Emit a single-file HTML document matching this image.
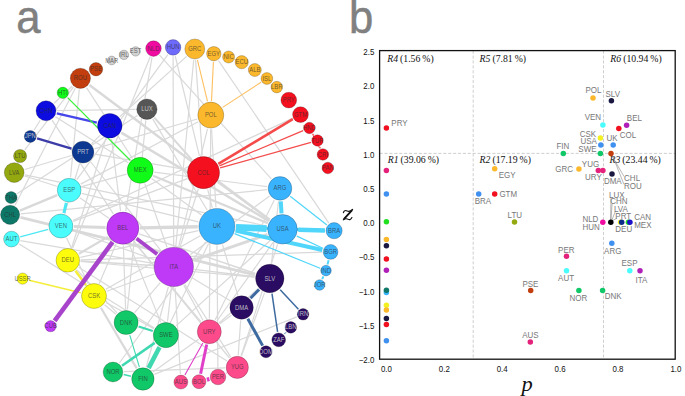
<!DOCTYPE html><html><head><meta charset="utf-8"><style>
html,body{margin:0;padding:0;background:#fff;}
body{width:685px;height:396px;overflow:hidden;position:relative;}
svg{position:absolute;left:0;top:0;}
.nl{font-family:"Liberation Sans",sans-serif;font-size:6.8px;fill:#2a2a2a;fill-opacity:.68;text-anchor:middle;dominant-baseline:central;}
.tk{font-family:"Liberation Sans",sans-serif;font-size:8.8px;fill:#111;}
.lb{font-family:"Liberation Sans",sans-serif;font-size:8.6px;fill:#777;}
.rg{font-family:"Liberation Serif",serif;font-size:9.75px;fill:#111;}
</style></head><body>
<svg width="685" height="396" viewBox="0 0 685 396">
<text transform="translate(16.3,32.9) scale(0.95,1)" font-family="Liberation Sans,sans-serif" font-size="46" fill="#808080" stroke="#808080" stroke-width="0.5">a</text>
<text transform="translate(348.9,32.8) scale(0.95,1)" font-family="Liberation Sans,sans-serif" font-size="46" fill="#808080" stroke="#808080" stroke-width="0.5">b</text>
<g stroke-linecap="butt">
<line x1="89.4" y1="85" x2="269.8" y2="219.8" stroke="#d9d9d9" stroke-width="2.5"/>
<line x1="79.3" y1="89.4" x2="70.5" y2="177.3" stroke="#d9d9d9" stroke-width="1.2"/>
<line x1="86.5" y1="87.7" x2="132.5" y2="158.5" stroke="#d9d9d9" stroke-width="1.2"/>
<line x1="75.3" y1="88.3" x2="15" y2="205.3" stroke="#d9d9d9" stroke-width="1.2"/>
<line x1="72.3" y1="86" x2="54.1" y2="103.2" stroke="#d9d9d9" stroke-width="1.2"/>
<line x1="57.1" y1="110.6" x2="135.6" y2="109.4" stroke="#d9d9d9" stroke-width="1.2"/>
<line x1="52.1" y1="120.1" x2="113.4" y2="213.8" stroke="#d9d9d9" stroke-width="1.2"/>
<line x1="55.4" y1="116.7" x2="128.3" y2="162.8" stroke="#d9d9d9" stroke-width="1.2"/>
<line x1="150.2" y1="56.8" x2="72.6" y2="248.3" stroke="#d9d9d9" stroke-width="1.2"/>
<line x1="152" y1="57.4" x2="125.7" y2="211.2" stroke="#d9d9d9" stroke-width="1.2"/>
<line x1="159.5" y1="55.2" x2="271.3" y2="178.8" stroke="#d9d9d9" stroke-width="1.2"/>
<line x1="167.9" y1="54.6" x2="76.8" y2="179.7" stroke="#d9d9d9" stroke-width="1.2"/>
<line x1="173.1" y1="56.3" x2="173.7" y2="246.1" stroke="#d9d9d9" stroke-width="1.2"/>
<line x1="175.2" y1="56" x2="199.4" y2="155.9" stroke="#d9d9d9" stroke-width="1.2"/>
<line x1="186.6" y1="56.4" x2="119.7" y2="116.7" stroke="#d9d9d9" stroke-width="1.2"/>
<line x1="193.7" y1="60" x2="175.8" y2="246.2" stroke="#d9d9d9" stroke-width="1.2"/>
<line x1="195.6" y1="60.1" x2="202.3" y2="155.4" stroke="#d9d9d9" stroke-width="1.2"/>
<line x1="218.5" y1="60.6" x2="328.9" y2="223.1" stroke="#d9d9d9" stroke-width="1.2"/>
<line x1="24.8" y1="149.9" x2="73.5" y2="87.1" stroke="#d9d9d9" stroke-width="1.2"/>
<line x1="34" y1="130.3" x2="40.2" y2="120.3" stroke="#d9d9d9" stroke-width="1.2"/>
<line x1="24.7" y1="169.5" x2="71.5" y2="155.5" stroke="#d9d9d9" stroke-width="1.2"/>
<line x1="24.7" y1="176" x2="56.8" y2="186.2" stroke="#d9d9d9" stroke-width="1.2"/>
<line x1="25" y1="174.9" x2="266.9" y2="226" stroke="#d9d9d9" stroke-width="1.2"/>
<line x1="17.1" y1="193.7" x2="137.4" y2="115.4" stroke="#d9d9d9" stroke-width="1.2"/>
<line x1="20" y1="210.7" x2="57.2" y2="195.2" stroke="#d9d9d9" stroke-width="2.5"/>
<line x1="20.5" y1="217.3" x2="254.9" y2="274.9" stroke="#d9d9d9" stroke-width="2.8"/>
<line x1="20.7" y1="213.8" x2="267.2" y2="189.7" stroke="#d9d9d9" stroke-width="1.2"/>
<line x1="20.4" y1="240.6" x2="153.3" y2="263.4" stroke="#d9d9d9" stroke-width="1.2"/>
<line x1="19.1" y1="243.9" x2="154.3" y2="327.9" stroke="#d9d9d9" stroke-width="1.2"/>
<line x1="91.5" y1="143.7" x2="100.3" y2="135.1" stroke="#d9d9d9" stroke-width="1.2"/>
<line x1="90.4" y1="161.5" x2="160.9" y2="250.6" stroke="#d9d9d9" stroke-width="1.2"/>
<line x1="94.8" y1="154.1" x2="186.5" y2="169.7" stroke="#d9d9d9" stroke-width="1.2"/>
<line x1="79.6" y1="163.6" x2="64.7" y2="213.4" stroke="#d9d9d9" stroke-width="1.2"/>
<line x1="94.5" y1="148.8" x2="197.3" y2="119" stroke="#d9d9d9" stroke-width="1.2"/>
<line x1="81.7" y1="186.7" x2="126.6" y2="174.1" stroke="#d9d9d9" stroke-width="1.2"/>
<line x1="80.7" y1="184.1" x2="198.3" y2="121.7" stroke="#d9d9d9" stroke-width="1.2"/>
<line x1="81.8" y1="193.3" x2="198.3" y2="221.9" stroke="#d9d9d9" stroke-width="1.2"/>
<line x1="79.8" y1="197.7" x2="108.8" y2="218.3" stroke="#d9d9d9" stroke-width="1.2"/>
<line x1="72.8" y1="220.5" x2="292.3" y2="118.4" stroke="#d9d9d9" stroke-width="1.2"/>
<line x1="73.2" y1="221.4" x2="187.4" y2="178.6" stroke="#d9d9d9" stroke-width="1.2"/>
<line x1="66.5" y1="237.8" x2="88.2" y2="283.7" stroke="#d9d9d9" stroke-width="1.2"/>
<line x1="71.6" y1="248" x2="105.8" y2="138.5" stroke="#d9d9d9" stroke-width="1.2"/>
<line x1="74" y1="226.5" x2="105.6" y2="227.6" stroke="#d9d9d9" stroke-width="3"/>
<line x1="73.2" y1="230.5" x2="154.2" y2="259.8" stroke="#d9d9d9" stroke-width="1.2"/>
<line x1="80.7" y1="261.1" x2="153" y2="265.6" stroke="#d9d9d9" stroke-width="1.5"/>
<line x1="80.7" y1="259.9" x2="322.1" y2="252.2" stroke="#d9d9d9" stroke-width="1.2"/>
<line x1="78.9" y1="253.8" x2="107.9" y2="236.9" stroke="#d9d9d9" stroke-width="2.2"/>
<line x1="80.4" y1="257.4" x2="198.3" y2="230.6" stroke="#d9d9d9" stroke-width="1.2"/>
<line x1="100.9" y1="307.7" x2="136.7" y2="368.4" stroke="#d9d9d9" stroke-width="2.2"/>
<line x1="105.8" y1="289.3" x2="200.3" y2="235.8" stroke="#d9d9d9" stroke-width="1.2"/>
<line x1="105.9" y1="302.5" x2="153.9" y2="328.6" stroke="#d9d9d9" stroke-width="1.2"/>
<line x1="121.3" y1="132.6" x2="268.9" y2="221.1" stroke="#d9d9d9" stroke-width="2.5"/>
<line x1="111.5" y1="139" x2="120.6" y2="211.1" stroke="#d9d9d9" stroke-width="1.2"/>
<line x1="153.2" y1="175.7" x2="267.8" y2="223.2" stroke="#d9d9d9" stroke-width="2.2"/>
<line x1="151.6" y1="178.6" x2="201.5" y2="215.1" stroke="#d9d9d9" stroke-width="1.2"/>
<line x1="154.2" y1="172.1" x2="267.2" y2="186.7" stroke="#d9d9d9" stroke-width="1.2"/>
<line x1="144.8" y1="183.6" x2="167" y2="247.3" stroke="#d9d9d9" stroke-width="1.2"/>
<line x1="154.4" y1="117.6" x2="192" y2="159.8" stroke="#d9d9d9" stroke-width="2"/>
<line x1="152.7" y1="118.9" x2="207.1" y2="210" stroke="#d9d9d9" stroke-width="1.2"/>
<line x1="145.8" y1="120.4" x2="127.4" y2="309.5" stroke="#d9d9d9" stroke-width="1.2"/>
<line x1="210.7" y1="129.2" x2="209.4" y2="318.6" stroke="#d9d9d9" stroke-width="1.2"/>
<line x1="211.6" y1="129.2" x2="215.9" y2="207.3" stroke="#d9d9d9" stroke-width="1.2"/>
<line x1="207.5" y1="128.8" x2="178.7" y2="246.7" stroke="#d9d9d9" stroke-width="1.2"/>
<line x1="207.7" y1="189.3" x2="212.3" y2="207.9" stroke="#d9d9d9" stroke-width="1.2"/>
<line x1="217.5" y1="182.6" x2="269.6" y2="220" stroke="#d9d9d9" stroke-width="1.2"/>
<line x1="198.3" y1="189" x2="180" y2="247.1" stroke="#d9d9d9" stroke-width="1.2"/>
<line x1="140" y1="227.9" x2="197.8" y2="226.8" stroke="#d9d9d9" stroke-width="3.4"/>
<line x1="139.1" y1="233.8" x2="255.3" y2="273.5" stroke="#d9d9d9" stroke-width="1.4"/>
<line x1="129.2" y1="244.2" x2="160.8" y2="322.4" stroke="#d9d9d9" stroke-width="1.2"/>
<line x1="133.7" y1="241.5" x2="229.5" y2="358" stroke="#d9d9d9" stroke-width="1.2"/>
<line x1="116.1" y1="244" x2="99.3" y2="283.5" stroke="#d9d9d9" stroke-width="1.2"/>
<line x1="106.8" y1="291.3" x2="154.3" y2="274" stroke="#d9d9d9" stroke-width="1.2"/>
<line x1="80.6" y1="261.5" x2="254.6" y2="277.1" stroke="#d9d9d9" stroke-width="1.2"/>
<line x1="123.4" y1="245.4" x2="125.6" y2="309.4" stroke="#d9d9d9" stroke-width="1.2"/>
<line x1="133.8" y1="241.4" x2="200.9" y2="321.6" stroke="#d9d9d9" stroke-width="1.2"/>
<line x1="193.5" y1="260.1" x2="267.5" y2="234.5" stroke="#d9d9d9" stroke-width="3"/>
<line x1="194.4" y1="269.4" x2="254.6" y2="276.7" stroke="#d9d9d9" stroke-width="1.4"/>
<line x1="190.5" y1="254.5" x2="269.6" y2="196.1" stroke="#d9d9d9" stroke-width="1.2"/>
<line x1="191.6" y1="277.6" x2="230.6" y2="300.9" stroke="#d9d9d9" stroke-width="1.2"/>
<line x1="171.4" y1="287.6" x2="167.5" y2="321.5" stroke="#d9d9d9" stroke-width="1.2"/>
<line x1="175.1" y1="287.7" x2="180.4" y2="374" stroke="#d9d9d9" stroke-width="1.2"/>
<line x1="183.8" y1="285.1" x2="203" y2="320.2" stroke="#d9d9d9" stroke-width="1.2"/>
<line x1="184.9" y1="284.5" x2="230.8" y2="357.1" stroke="#d9d9d9" stroke-width="1.2"/>
<line x1="168.3" y1="287" x2="146.2" y2="367.1" stroke="#d9d9d9" stroke-width="1.2"/>
<line x1="160.3" y1="282.7" x2="134.6" y2="312.6" stroke="#d9d9d9" stroke-width="1.2"/>
<line x1="217" y1="245.5" x2="217.9" y2="368.1" stroke="#d9d9d9" stroke-width="1.2"/>
<line x1="208.6" y1="243.6" x2="148.3" y2="367.9" stroke="#d9d9d9" stroke-width="1.2"/>
<line x1="222.5" y1="244.7" x2="237.9" y2="295.3" stroke="#d9d9d9" stroke-width="1.2"/>
<line x1="205.8" y1="241.9" x2="119.4" y2="363" stroke="#d9d9d9" stroke-width="1.2"/>
<line x1="215.1" y1="320" x2="274.3" y2="200" stroke="#d9d9d9" stroke-width="1.2"/>
<line x1="219.1" y1="323" x2="258.3" y2="288.6" stroke="#d9d9d9" stroke-width="1.2"/>
<line x1="216.9" y1="321" x2="273.3" y2="242.2" stroke="#d9d9d9" stroke-width="1.2"/>
<line x1="270.7" y1="240" x2="176" y2="325.9" stroke="#d9d9d9" stroke-width="1.2"/>
<line x1="277.6" y1="244.4" x2="241.1" y2="355.8" stroke="#d9d9d9" stroke-width="1.2"/>
<line x1="241.5" y1="355.9" x2="264.5" y2="292.9" stroke="#d9d9d9" stroke-width="1.2"/>
<line x1="238.2" y1="355.2" x2="240.7" y2="320.3" stroke="#d9d9d9" stroke-width="1.2"/>
<line x1="117.1" y1="312.9" x2="76.6" y2="269.7" stroke="#d9d9d9" stroke-width="1.2"/>
<line x1="116" y1="314.2" x2="104.5" y2="304.7" stroke="#d9d9d9" stroke-width="1.2"/>
<line x1="271.5" y1="263.3" x2="278.5" y2="201.2" stroke="#d9d9d9" stroke-width="1.2"/>
<line x1="124" y1="371.6" x2="225.1" y2="367.9" stroke="#d9d9d9" stroke-width="1.2"/>
<line x1="152.9" y1="371.9" x2="198.6" y2="339.3" stroke="#d9d9d9" stroke-width="1.2"/>
<line x1="154.3" y1="374.4" x2="296.7" y2="316.9" stroke="#d9d9d9" stroke-width="1.2"/>
<line x1="227" y1="360.9" x2="78.7" y2="267.2" stroke="#d9d9d9" stroke-width="1.2"/>
<line x1="219.8" y1="323.8" x2="231.4" y2="315.2" stroke="#d9d9d9" stroke-width="1.2"/>
<line x1="56.8" y1="113.3" x2="96.8" y2="122.7" stroke="#4646ea" stroke-width="2.4"/>
<line x1="37.1" y1="138.4" x2="71.5" y2="148.7" stroke="#3c3ca8" stroke-width="2.3"/>
<line x1="67.6" y1="97.6" x2="130.2" y2="160.3" stroke="#3cf03c" stroke-width="1.3"/>
<line x1="66.3" y1="202.9" x2="63.9" y2="213.2" stroke="#4ce8f4" stroke-width="3"/>
<line x1="48.2" y1="229.4" x2="20.2" y2="236.8" stroke="#4ce8f4" stroke-width="1.2"/>
<line x1="75.4" y1="270.7" x2="86" y2="285" stroke="#f4ee3a" stroke-width="2.5"/>
<line x1="29.1" y1="280.2" x2="80.8" y2="292.8" stroke="#f4ee3a" stroke-width="1.4"/>
<line x1="112.6" y1="242" x2="54.6" y2="320.8" stroke="#a844cc" stroke-width="4.6"/>
<line x1="136.5" y1="238.6" x2="157.2" y2="254.3" stroke="#a844cc" stroke-width="3.8"/>
<line x1="197.4" y1="59.8" x2="207.5" y2="101.4" stroke="#fdc060" stroke-width="1.1"/>
<line x1="213.4" y1="62" x2="211.5" y2="101" stroke="#fdc060" stroke-width="1.1"/>
<line x1="261" y1="82.3" x2="222.6" y2="107.4" stroke="#fdc060" stroke-width="1.1"/>
<line x1="235.2" y1="59.6" x2="234.5" y2="59.4" stroke="#fdc060" stroke-width="1.0"/>
<line x1="218.3" y1="163.8" x2="292.8" y2="119.2" stroke="#f44a4a" stroke-width="2.6"/>
<line x1="219.4" y1="165.9" x2="303.1" y2="130.6" stroke="#f44a4a" stroke-width="1.2"/>
<line x1="220.1" y1="167.9" x2="311" y2="142.3" stroke="#f44a4a" stroke-width="1.2"/>
<line x1="313.1" y1="133.7" x2="313.8" y2="134.8" stroke="#f44a4a" stroke-width="1.0"/>
<line x1="312.5" y1="134.1" x2="319.8" y2="148.4" stroke="#f44a4a" stroke-width="1.0"/>
<line x1="319.9" y1="146.8" x2="320.4" y2="148.1" stroke="#f44a4a" stroke-width="1.0"/>
<line x1="280.8" y1="201.3" x2="281.5" y2="213.4" stroke="#50d6fa" stroke-width="4"/>
<line x1="290.2" y1="196.3" x2="326.9" y2="225" stroke="#50d6fa" stroke-width="1.2"/>
<line x1="298.4" y1="229.7" x2="324.9" y2="230.5" stroke="#50d6fa" stroke-width="4.4"/>
<line x1="236" y1="227.2" x2="266.6" y2="228.6" stroke="#50d6fa" stroke-width="6.6"/>
<line x1="236" y1="227.1" x2="324.9" y2="230.4" stroke="#50d6fa" stroke-width="3"/>
<line x1="235.5" y1="230.6" x2="322.3" y2="250" stroke="#50d6fa" stroke-width="4"/>
<line x1="296.9" y1="236.1" x2="322.9" y2="248.3" stroke="#50d6fa" stroke-width="1.2"/>
<line x1="234.6" y1="233.6" x2="320.1" y2="268.2" stroke="#50d6fa" stroke-width="1.2"/>
<line x1="328.6" y1="260.2" x2="327.5" y2="264.4" stroke="#50d6fa" stroke-width="2"/>
<line x1="323.4" y1="276.4" x2="322.2" y2="279.2" stroke="#50d6fa" stroke-width="2"/>
<line x1="259.1" y1="289.5" x2="250.5" y2="298.3" stroke="#3d6aa0" stroke-width="3"/>
<line x1="280.2" y1="289.7" x2="298.4" y2="309.2" stroke="#3d6aa0" stroke-width="1.5"/>
<line x1="272" y1="293.6" x2="277.6" y2="331.9" stroke="#3d6aa0" stroke-width="1.5"/>
<line x1="247.8" y1="318.7" x2="262.6" y2="345.6" stroke="#3d6aa0" stroke-width="3"/>
<line x1="284.3" y1="334.1" x2="286" y2="332.3" stroke="#3d6aa0" stroke-width="1.0"/>
<line x1="138.6" y1="326.5" x2="152.8" y2="331" stroke="#40d8b0" stroke-width="2.2"/>
<line x1="129.8" y1="335.1" x2="139.4" y2="367.2" stroke="#40d8b0" stroke-width="1.1"/>
<line x1="154.7" y1="342.9" x2="122" y2="365.7" stroke="#40d8b0" stroke-width="2.6"/>
<line x1="159.5" y1="347.2" x2="148.6" y2="368.1" stroke="#40d8b0" stroke-width="4.6"/>
<line x1="123.7" y1="374.5" x2="130.9" y2="376.2" stroke="#40d8b0" stroke-width="1.6"/>
<line x1="202.9" y1="343.1" x2="184.9" y2="375" stroke="#e040c8" stroke-width="1.1"/>
<line x1="206.7" y1="344.5" x2="200.6" y2="373.8" stroke="#e040c8" stroke-width="3"/>
<line x1="206.9" y1="379.8" x2="209.4" y2="379.1" stroke="#e040c8" stroke-width="4.2"/>
<line x1="226" y1="373" x2="226.4" y2="372.8" stroke="#e040c8" stroke-width="1.5"/>
</g>
<circle cx="80.4" cy="78.3" r="10.1" fill="#c23e0e" stroke="#000" stroke-opacity=".35" stroke-width=".6"/><text class="nl" transform="translate(80.4,77.7) scale(0.87,1)">ROU</text>
<circle cx="96" cy="69.2" r="6.7" fill="#c23e0e" stroke="#000" stroke-opacity=".35" stroke-width=".6"/><text class="nl" transform="translate(96,68.6) scale(0.87,1)">PSE</text>
<circle cx="111.7" cy="60.5" r="4.4" fill="#d2d2d2" stroke="#000" stroke-opacity=".35" stroke-width=".6"/><text class="nl" transform="translate(111.7,59.9) scale(0.87,1)">MAR</text>
<circle cx="123.9" cy="54.9" r="4.7" fill="#d2d2d2" stroke="#000" stroke-opacity=".35" stroke-width=".6"/><text class="nl" transform="translate(123.9,54.3) scale(0.87,1)">IRL</text>
<circle cx="135.6" cy="51.4" r="4.7" fill="#d2d2d2" stroke="#000" stroke-opacity=".35" stroke-width=".6"/><text class="nl" transform="translate(135.6,50.8) scale(0.87,1)">EST</text>
<circle cx="153.5" cy="48.6" r="7.8" fill="#f00ca0" stroke="#000" stroke-opacity=".35" stroke-width=".6"/><text class="nl" transform="translate(153.5,48) scale(0.87,1)">NLD</text>
<circle cx="173.1" cy="47.4" r="7.8" fill="#6e6afc" stroke="#000" stroke-opacity=".35" stroke-width=".6"/><text class="nl" transform="translate(173.1,46.8) scale(0.87,1)">HUN</text>
<circle cx="194.8" cy="49" r="10" fill="#fcb82c" stroke="#000" stroke-opacity=".35" stroke-width=".6"/><text class="nl" transform="translate(194.8,48.4) scale(0.87,1)">GRC</text>
<circle cx="213.8" cy="53.7" r="7.2" fill="#fcb82c" stroke="#000" stroke-opacity=".35" stroke-width=".6"/><text class="nl" transform="translate(213.8,53.1) scale(0.87,1)">EGY</text>
<circle cx="228.6" cy="57" r="6" fill="#fcb82c" stroke="#000" stroke-opacity=".35" stroke-width=".6"/><text class="nl" transform="translate(228.6,56.4) scale(0.87,1)">NIC</text>
<circle cx="241.7" cy="62.2" r="6.6" fill="#fcb82c" stroke="#000" stroke-opacity=".35" stroke-width=".6"/><text class="nl" transform="translate(241.7,61.6) scale(0.87,1)">ECU</text>
<circle cx="254.8" cy="70" r="6.5" fill="#fcb82c" stroke="#000" stroke-opacity=".35" stroke-width=".6"/><text class="nl" transform="translate(254.8,69.4) scale(0.87,1)">ALB</text>
<circle cx="266.9" cy="78.5" r="5.9" fill="#fcb82c" stroke="#000" stroke-opacity=".35" stroke-width=".6"/><text class="nl" transform="translate(266.9,77.9) scale(0.87,1)">ISL</text>
<circle cx="276.8" cy="87.1" r="5.8" fill="#fcb82c" stroke="#000" stroke-opacity=".35" stroke-width=".6"/><text class="nl" transform="translate(276.8,86.5) scale(0.87,1)">LBR</text>
<circle cx="288.8" cy="100.1" r="7.9" fill="#f51020" stroke="#000" stroke-opacity=".35" stroke-width=".6"/><text class="nl" transform="translate(288.8,99.5) scale(0.87,1)">PRY</text>
<circle cx="300.5" cy="114.6" r="7.9" fill="#f51020" stroke="#000" stroke-opacity=".35" stroke-width=".6"/><text class="nl" transform="translate(300.5,114) scale(0.87,1)">GTM</text>
<circle cx="309.4" cy="128" r="5.7" fill="#f51020" stroke="#000" stroke-opacity=".35" stroke-width=".6"/><text class="nl" transform="translate(309.4,127.4) scale(0.87,1)">HND</text>
<circle cx="317.5" cy="140.5" r="5.7" fill="#f51020" stroke="#000" stroke-opacity=".35" stroke-width=".6"/><text class="nl" transform="translate(317.5,139.9) scale(0.87,1)">TUR</text>
<circle cx="322.9" cy="154.5" r="5.8" fill="#f51020" stroke="#000" stroke-opacity=".35" stroke-width=".6"/><text class="nl" transform="translate(322.9,153.9) scale(0.87,1)">CRI</text>
<circle cx="327.8" cy="168" r="5.8" fill="#f51020" stroke="#000" stroke-opacity=".35" stroke-width=".6"/><text class="nl" transform="translate(327.8,167.4) scale(0.87,1)">PAN</text>
<circle cx="334.1" cy="230.7" r="8.1" fill="#3ab3fe" stroke="#000" stroke-opacity=".35" stroke-width=".6"/><text class="nl" transform="translate(334.1,230.1) scale(0.87,1)">BRA</text>
<circle cx="330.6" cy="251.9" r="7.4" fill="#3ab3fe" stroke="#000" stroke-opacity=".35" stroke-width=".6"/><text class="nl" transform="translate(330.6,251.3) scale(0.87,1)">BGR</text>
<circle cx="326" cy="270.6" r="5.3" fill="#3ab3fe" stroke="#000" stroke-opacity=".35" stroke-width=".6"/><text class="nl" transform="translate(326,270) scale(0.87,1)">IND</text>
<circle cx="319.6" cy="285" r="5.3" fill="#3ab3fe" stroke="#000" stroke-opacity=".35" stroke-width=".6"/><text class="nl" transform="translate(319.6,284.4) scale(0.87,1)">JOR</text>
<circle cx="303.1" cy="314.3" r="5.8" fill="#2b0c63" stroke="#000" stroke-opacity=".35" stroke-width=".6"/><text class="nl" transform="translate(303.1,313.7) scale(0.87,1)" style="fill:#d4d4d4;fill-opacity:.9">IRN</text>
<circle cx="290.8" cy="327.4" r="5.8" fill="#2b0c63" stroke="#000" stroke-opacity=".35" stroke-width=".6"/><text class="nl" transform="translate(290.8,326.8) scale(0.87,1)" style="fill:#d4d4d4;fill-opacity:.9">LBN</text>
<circle cx="278.7" cy="339.8" r="6.9" fill="#2b0c63" stroke="#000" stroke-opacity=".35" stroke-width=".6"/><text class="nl" transform="translate(278.7,339.2) scale(0.87,1)" style="fill:#d4d4d4;fill-opacity:.9">ZAF</text>
<circle cx="266" cy="351.8" r="6" fill="#2b0c63" stroke="#000" stroke-opacity=".35" stroke-width=".6"/><text class="nl" transform="translate(266,351.2) scale(0.87,1)" style="fill:#d4d4d4;fill-opacity:.9">DOM</text>
<circle cx="237.3" cy="367.4" r="11.1" fill="#fc4a8a" stroke="#000" stroke-opacity=".35" stroke-width=".6"/><text class="nl" transform="translate(237.3,366.8) scale(0.87,1)">YUG</text>
<circle cx="218" cy="377" r="7.8" fill="#fc4a8a" stroke="#000" stroke-opacity=".35" stroke-width=".6"/><text class="nl" transform="translate(218,376.4) scale(0.87,1)">PER</text>
<circle cx="199" cy="381.7" r="7" fill="#fc4a8a" stroke="#000" stroke-opacity=".35" stroke-width=".6"/><text class="nl" transform="translate(199,381.1) scale(0.87,1)">BOL</text>
<circle cx="180.9" cy="382.1" r="7" fill="#fc4a8a" stroke="#000" stroke-opacity=".35" stroke-width=".6"/><text class="nl" transform="translate(180.9,381.5) scale(0.87,1)">AUS</text>
<circle cx="142.9" cy="379" r="11.2" fill="#10c868" stroke="#000" stroke-opacity=".35" stroke-width=".6"/><text class="nl" transform="translate(142.9,378.4) scale(0.87,1)">FIN</text>
<circle cx="113" cy="372" r="9.9" fill="#10c868" stroke="#000" stroke-opacity=".35" stroke-width=".6"/><text class="nl" transform="translate(113,371.4) scale(0.87,1)">NOR</text>
<circle cx="50.6" cy="326.2" r="5.6" fill="#be3af6" stroke="#000" stroke-opacity=".35" stroke-width=".6"/><text class="nl" transform="translate(50.6,325.6) scale(0.87,1)">CUB</text>
<circle cx="22.6" cy="278.6" r="5.6" fill="#fcfc0c" stroke="#000" stroke-opacity=".35" stroke-width=".6"/><text class="nl" transform="translate(22.6,278) scale(0.87,1)">USSR</text>
<circle cx="11.5" cy="239.1" r="7.9" fill="#4afcfc" stroke="#000" stroke-opacity=".35" stroke-width=".6"/><text class="nl" transform="translate(11.5,238.5) scale(0.87,1)">AUT</text>
<circle cx="10.1" cy="214.8" r="9.6" fill="#0e7868" stroke="#000" stroke-opacity=".35" stroke-width=".6"/><text class="nl" transform="translate(10.1,214.2) scale(0.87,1)">CHL</text>
<circle cx="11.1" cy="197.6" r="6" fill="#0e7868" stroke="#000" stroke-opacity=".35" stroke-width=".6"/><text class="nl" transform="translate(11.1,197) scale(0.87,1)">THA</text>
<circle cx="14.2" cy="172.6" r="9.9" fill="#94a810" stroke="#000" stroke-opacity=".35" stroke-width=".6"/><text class="nl" transform="translate(14.2,172) scale(0.87,1)">LVA</text>
<circle cx="20.1" cy="156" r="6.6" fill="#94a810" stroke="#000" stroke-opacity=".35" stroke-width=".6"/><text class="nl" transform="translate(20.1,155.4) scale(0.87,1)">LTU</text>
<circle cx="30.3" cy="136.4" r="6" fill="#0c3892" stroke="#000" stroke-opacity=".35" stroke-width=".6"/><text class="nl" transform="translate(30.3,135.8) scale(0.87,1)" style="fill:#d4d4d4;fill-opacity:.9">JPN</text>
<circle cx="46" cy="110.8" r="10" fill="#0c0ce0" stroke="#000" stroke-opacity=".35" stroke-width=".6"/><text class="nl" transform="translate(46,110.2) scale(0.87,1)">CHN</text>
<circle cx="62.8" cy="92.8" r="5.7" fill="#10fc18" stroke="#000" stroke-opacity=".35" stroke-width=".6"/><text class="nl" transform="translate(62.8,92.2) scale(0.87,1)">HTI</text>
<circle cx="109.8" cy="125.7" r="12.3" fill="#0c0ce0" stroke="#000" stroke-opacity=".35" stroke-width=".6"/><text class="nl" transform="translate(109.8,125.1) scale(0.87,1)">CAN</text>
<circle cx="146.9" cy="109.2" r="10.2" fill="#565656" stroke="#000" stroke-opacity=".35" stroke-width=".6"/><text class="nl" transform="translate(146.9,108.6) scale(0.87,1)" style="fill:#d4d4d4;fill-opacity:.9">LUX</text>
<circle cx="210.8" cy="115.1" r="13" fill="#fcb82c" stroke="#000" stroke-opacity=".35" stroke-width=".6"/><text class="nl" transform="translate(210.8,114.5) scale(0.87,1)">POL</text>
<circle cx="83" cy="152.1" r="10.9" fill="#0c3892" stroke="#000" stroke-opacity=".35" stroke-width=".6"/><text class="nl" transform="translate(83,151.5) scale(0.87,1)" style="fill:#d4d4d4;fill-opacity:.9">PRT</text>
<circle cx="140.2" cy="170.3" r="13" fill="#10fc18" stroke="#000" stroke-opacity=".35" stroke-width=".6"/><text class="nl" transform="translate(140.2,169.7) scale(0.87,1)">MEX</text>
<circle cx="203.5" cy="172.6" r="16.1" fill="#f51020" stroke="#000" stroke-opacity=".35" stroke-width=".6"/><text class="nl" transform="translate(203.5,172) scale(0.87,1)">COL</text>
<circle cx="280" cy="188.4" r="11.8" fill="#3ab3fe" stroke="#000" stroke-opacity=".35" stroke-width=".6"/><text class="nl" transform="translate(280,187.8) scale(0.87,1)">ARG</text>
<circle cx="282.5" cy="229.3" r="14.8" fill="#3ab3fe" stroke="#000" stroke-opacity=".35" stroke-width=".6"/><text class="nl" transform="translate(282.5,228.7) scale(0.87,1)">USA</text>
<circle cx="216.9" cy="226.4" r="18" fill="#3ab3fe" stroke="#000" stroke-opacity=".35" stroke-width=".6"/><text class="nl" transform="translate(216.9,225.8) scale(0.87,1)">UK</text>
<circle cx="69.2" cy="190.2" r="11.9" fill="#4afcfc" stroke="#000" stroke-opacity=".35" stroke-width=".6"/><text class="nl" transform="translate(69.2,189.6) scale(0.87,1)">ESP</text>
<circle cx="60.9" cy="226" r="12" fill="#4afcfc" stroke="#000" stroke-opacity=".35" stroke-width=".6"/><text class="nl" transform="translate(60.9,225.4) scale(0.87,1)">VEN</text>
<circle cx="122.8" cy="228.2" r="16.1" fill="#be3af6" stroke="#000" stroke-opacity=".35" stroke-width=".6"/><text class="nl" transform="translate(122.8,227.6) scale(0.87,1)">BEL</text>
<circle cx="173.8" cy="266.9" r="19.7" fill="#be3af6" stroke="#000" stroke-opacity=".35" stroke-width=".6"/><text class="nl" transform="translate(173.8,266.3) scale(0.87,1)">ITA</text>
<circle cx="67.8" cy="260.3" r="11.8" fill="#fcfc0c" stroke="#000" stroke-opacity=".35" stroke-width=".6"/><text class="nl" transform="translate(67.8,259.7) scale(0.87,1)">DEU</text>
<circle cx="94" cy="296" r="12.5" fill="#fcfc0c" stroke="#000" stroke-opacity=".35" stroke-width=".6"/><text class="nl" transform="translate(94,295.4) scale(0.87,1)">CSK</text>
<circle cx="269.8" cy="278.5" r="14.2" fill="#2b0c63" stroke="#000" stroke-opacity=".35" stroke-width=".6"/><text class="nl" transform="translate(269.8,277.9) scale(0.87,1)" style="fill:#d4d4d4;fill-opacity:.9">SLV</text>
<circle cx="241.6" cy="307.5" r="11.7" fill="#2b0c63" stroke="#000" stroke-opacity=".35" stroke-width=".6"/><text class="nl" transform="translate(241.6,306.9) scale(0.87,1)" style="fill:#d4d4d4;fill-opacity:.9">DMA</text>
<circle cx="209.3" cy="331.7" r="12" fill="#fc4a8a" stroke="#000" stroke-opacity=".35" stroke-width=".6"/><text class="nl" transform="translate(209.3,331.1) scale(0.87,1)">URY</text>
<circle cx="126.1" cy="322.5" r="12" fill="#10c868" stroke="#000" stroke-opacity=".35" stroke-width=".6"/><text class="nl" transform="translate(126.1,321.9) scale(0.87,1)">DNK</text>
<circle cx="165.9" cy="335.1" r="12.6" fill="#10c868" stroke="#000" stroke-opacity=".35" stroke-width=".6"/><text class="nl" transform="translate(165.9,334.5) scale(0.87,1)">SWE</text>
<g stroke="#cacaca" stroke-width="0.9" stroke-dasharray="3.1,1.8"><line x1="473.2" y1="50.6" x2="473.2" y2="359.2"/><line x1="603.5" y1="50.6" x2="603.5" y2="359.2"/><line x1="379.6" y1="153.4" x2="675.2" y2="153.4"/></g>
<rect x="379.6" y="50.6" width="295.6" height="308.6" fill="none" stroke="#111" stroke-width="1.3"/>
<text class="tk" transform="translate(374.3,52.0) scale(0.9,1)" text-anchor="end" dominant-baseline="central">2.5</text><text class="tk" transform="translate(374.3,86.2) scale(0.9,1)" text-anchor="end" dominant-baseline="central">2.0</text><text class="tk" transform="translate(374.3,120.4) scale(0.9,1)" text-anchor="end" dominant-baseline="central">1.5</text><text class="tk" transform="translate(374.3,154.6) scale(0.9,1)" text-anchor="end" dominant-baseline="central">1.0</text><text class="tk" transform="translate(374.3,188.8) scale(0.9,1)" text-anchor="end" dominant-baseline="central">0.5</text><text class="tk" transform="translate(374.3,223.0) scale(0.9,1)" text-anchor="end" dominant-baseline="central">0.0</text><text class="tk" transform="translate(374.3,257.2) scale(0.9,1)" text-anchor="end" dominant-baseline="central">−0.5</text><text class="tk" transform="translate(374.3,291.4) scale(0.9,1)" text-anchor="end" dominant-baseline="central">−1.0</text><text class="tk" transform="translate(374.3,325.6) scale(0.9,1)" text-anchor="end" dominant-baseline="central">−1.5</text><text class="tk" transform="translate(374.3,359.8) scale(0.9,1)" text-anchor="end" dominant-baseline="central">−2.0</text><text class="tk" transform="translate(386.4,368.8) scale(0.9,1)" text-anchor="middle" dominant-baseline="central">0.0</text><text class="tk" transform="translate(444.3,368.8) scale(0.9,1)" text-anchor="middle" dominant-baseline="central">0.2</text><text class="tk" transform="translate(502.2,368.8) scale(0.9,1)" text-anchor="middle" dominant-baseline="central">0.4</text><text class="tk" transform="translate(560.1,368.8) scale(0.9,1)" text-anchor="middle" dominant-baseline="central">0.6</text><text class="tk" transform="translate(618.0,368.8) scale(0.9,1)" text-anchor="middle" dominant-baseline="central">0.8</text><text class="tk" transform="translate(675.9,368.8) scale(0.9,1)" text-anchor="middle" dominant-baseline="central">1.0</text>
<path d="M352.2,210.2 L343.8,219.2" stroke="#111" stroke-width="1.7"/><path d="M343.4,212.6 C343.9,210.6 345.6,210.1 347.1,210.9 C348.6,211.7 350.2,211.6 352.6,209.4 L343.3,219.9 C345.3,218.3 346.9,218.6 348.2,219.3 C349.6,220 351,219.6 351.9,217.6" fill="none" stroke="#111" stroke-width="1.15" stroke-linejoin="round" stroke-linecap="round"/>
<text transform="translate(521.4,390.6) scale(1.07,1)" font-family="Liberation Serif,serif" font-style="italic" font-size="21" fill="#111">p</text>
<text class="rg" x="387.2" y="61.8"><tspan font-style="italic">R4</tspan><tspan dx="2">(1.56 %)</tspan></text><text class="rg" x="479.6" y="61.8"><tspan font-style="italic">R5</tspan><tspan dx="2">(7.81 %)</tspan></text><text class="rg" x="610.3" y="61.8"><tspan font-style="italic">R6</tspan><tspan dx="2">(10.94 %)</tspan></text>
<text class="rg" x="387.7" y="162.6"><tspan font-style="italic">R1</tspan><tspan dx="2">(39.06 %)</tspan></text><text class="rg" x="479.6" y="162.6"><tspan font-style="italic">R2</tspan><tspan dx="2">(17.19 %)</tspan></text><text class="rg" x="609.5" y="162.6"><tspan font-style="italic">R3</tspan><tspan dx="2">(23.44 %)</tspan></text>
<g stroke="#888" stroke-width="0.6" fill="none"><line x1="611.5" y1="155" x2="624" y2="176.5"/><line x1="612.5" y1="155.5" x2="624" y2="184.5"/><line x1="610.5" y1="221" x2="611" y2="197.5"/><line x1="611" y1="221" x2="612" y2="204"/><line x1="611.5" y1="221" x2="615.5" y2="211"/><line x1="612" y1="221" x2="617" y2="218"/></g>
<circle cx="386.4" cy="128.1" r="2.75" fill="#f01020"/><circle cx="386.4" cy="170.5" r="2.75" fill="#e4227c"/><circle cx="386.4" cy="193.9" r="2.75" fill="#4090f0"/><circle cx="386.4" cy="221.8" r="2.75" fill="#20e020"/><circle cx="386.4" cy="239.5" r="2.75" fill="#fcb82c"/><circle cx="386.4" cy="245.8" r="2.75" fill="#1a1840"/><circle cx="386.4" cy="259.1" r="2.75" fill="#f01020"/><circle cx="386.4" cy="270.3" r="2.75" fill="#b020b8"/><circle cx="386.4" cy="292.4" r="2.75" fill="#3ab3fe"/><circle cx="386.4" cy="290.2" r="2.75" fill="#107868"/><circle cx="386.4" cy="305.3" r="2.75" fill="#f2f020"/><circle cx="386.4" cy="310.0" r="2.75" fill="#fcb82c"/><circle cx="386.4" cy="318.5" r="2.75" fill="#1a1840"/><circle cx="386.4" cy="324.4" r="2.75" fill="#f01020"/><circle cx="386.4" cy="340.8" r="2.75" fill="#4090f0"/><circle cx="593.0" cy="98.0" r="2.75" fill="#fcb82c"/><circle cx="611.4" cy="100.8" r="2.75" fill="#1a1840"/><circle cx="602.9" cy="124.9" r="2.75" fill="#4afcfc"/><circle cx="626.6" cy="125.2" r="2.75" fill="#b020b8"/><circle cx="618.8" cy="128.4" r="2.75" fill="#f01020"/><circle cx="600.4" cy="138.0" r="2.75" fill="#f2f020"/><circle cx="600.8" cy="145.0" r="2.75" fill="#4090f0"/><circle cx="613.2" cy="145.0" r="2.75" fill="#4090f0"/><circle cx="600.4" cy="153.5" r="2.75" fill="#10c868"/><circle cx="611.0" cy="153.5" r="2.75" fill="#c23e0e"/><circle cx="563.3" cy="153.5" r="2.75" fill="#10c868"/><circle cx="578.9" cy="169.1" r="2.75" fill="#fcb82c"/><circle cx="494.7" cy="168.8" r="2.75" fill="#fcb82c"/><circle cx="598.3" cy="170.6" r="2.75" fill="#e4227c"/><circle cx="602.9" cy="170.6" r="2.75" fill="#e4227c"/><circle cx="612.0" cy="174.0" r="2.75" fill="#1a1840"/><circle cx="478.7" cy="194.0" r="2.75" fill="#4090f0"/><circle cx="494.7" cy="194.0" r="2.75" fill="#f01020"/><circle cx="514.5" cy="222.0" r="2.75" fill="#94a810"/><circle cx="602.8" cy="222.2" r="2.75" fill="#f00ca0"/><circle cx="610.8" cy="222.2" r="2.75" fill="#000000"/><circle cx="620.6" cy="222.2" r="2.75" fill="#f2f020"/><circle cx="621.7" cy="222.2" r="2.75" fill="#0b2a8c"/><circle cx="628.4" cy="222.2" r="2.75" fill="#20e020"/><circle cx="629.9" cy="222.2" r="2.75" fill="#1c10c8"/><circle cx="611.8" cy="243.3" r="2.75" fill="#4090f0"/><circle cx="566.5" cy="256.3" r="2.75" fill="#e4227c"/><circle cx="566.5" cy="270.8" r="2.75" fill="#4afcfc"/><circle cx="629.8" cy="270.8" r="2.75" fill="#4afcfc"/><circle cx="640.0" cy="270.8" r="2.75" fill="#b020b8"/><circle cx="530.7" cy="290.6" r="2.75" fill="#c23e0e"/><circle cx="578.9" cy="290.6" r="2.75" fill="#10c868"/><circle cx="602.6" cy="290.6" r="2.75" fill="#10c868"/><circle cx="530.3" cy="341.9" r="2.75" fill="#e4227c"/>
<text class="lb" transform="translate(391.3,122.7) scale(0.93,1)" dominant-baseline="central">PRY</text><text class="lb" transform="translate(585.4,89.7) scale(0.93,1)" dominant-baseline="central">POL</text><text class="lb" transform="translate(605.5,93.6) scale(0.93,1)" dominant-baseline="central">SLV</text><text class="lb" transform="translate(584.7,117.3) scale(0.93,1)" dominant-baseline="central">VEN</text><text class="lb" transform="translate(626.8,117.7) scale(0.93,1)" dominant-baseline="central">BEL</text><text class="lb" transform="translate(619.7,135.0) scale(0.93,1)" dominant-baseline="central">COL</text><text class="lb" transform="translate(579.7,133.6) scale(0.93,1)" dominant-baseline="central">CSK</text><text class="lb" transform="translate(580.4,141.0) scale(0.93,1)" dominant-baseline="central">USA</text><text class="lb" transform="translate(606.6,137.8) scale(0.93,1)" dominant-baseline="central">UK</text><text class="lb" transform="translate(578.3,149.2) scale(0.93,1)" dominant-baseline="central">SWE</text><text class="lb" transform="translate(556.4,146.3) scale(0.93,1)" dominant-baseline="central">FIN</text><text class="lb" transform="translate(555.3,169.0) scale(0.93,1)" dominant-baseline="central">GRC</text><text class="lb" transform="translate(581.8,164.1) scale(0.93,1)" dominant-baseline="central">YUG</text><text class="lb" transform="translate(498.7,175.0) scale(0.93,1)" dominant-baseline="central">EGY</text><text class="lb" transform="translate(585.0,177.3) scale(0.93,1)" dominant-baseline="central">URY</text><text class="lb" transform="translate(603.9,181.1) scale(0.93,1)" dominant-baseline="central">DMA</text><text class="lb" transform="translate(624.1,177.8) scale(0.93,1)" dominant-baseline="central">CHL</text><text class="lb" transform="translate(624.1,185.6) scale(0.93,1)" dominant-baseline="central">ROU</text><text class="lb" transform="translate(609.0,194.5) scale(0.93,1)" dominant-baseline="central">LUX</text><text class="lb" transform="translate(610.2,201.3) scale(0.93,1)" dominant-baseline="central">CHN</text><text class="lb" transform="translate(614.0,208.4) scale(0.93,1)" dominant-baseline="central">LVA</text><text class="lb" transform="translate(615.3,215.7) scale(0.93,1)" dominant-baseline="central">PRT</text><text class="lb" transform="translate(582.4,218.5) scale(0.93,1)" dominant-baseline="central">NLD</text><text class="lb" transform="translate(582.4,226.6) scale(0.93,1)" dominant-baseline="central">HUN</text><text class="lb" transform="translate(634.2,217.2) scale(0.93,1)" dominant-baseline="central">CAN</text><text class="lb" transform="translate(634.2,225.3) scale(0.93,1)" dominant-baseline="central">MEX</text><text class="lb" transform="translate(615.3,229.1) scale(0.93,1)" dominant-baseline="central">DEU</text><text class="lb" transform="translate(474.7,201.3) scale(0.93,1)" dominant-baseline="central">BRA</text><text class="lb" transform="translate(499.4,193.5) scale(0.93,1)" dominant-baseline="central">GTM</text><text class="lb" transform="translate(507.6,214.8) scale(0.93,1)" dominant-baseline="central">LTU</text><text class="lb" transform="translate(558.1,249.5) scale(0.93,1)" dominant-baseline="central">PER</text><text class="lb" transform="translate(558.1,277.7) scale(0.93,1)" dominant-baseline="central">AUT</text><text class="lb" transform="translate(522.4,283.4) scale(0.93,1)" dominant-baseline="central">PSE</text><text class="lb" transform="translate(569.5,297.5) scale(0.93,1)" dominant-baseline="central">NOR</text><text class="lb" transform="translate(604.8,296.1) scale(0.93,1)" dominant-baseline="central">DNK</text><text class="lb" transform="translate(604.1,250.5) scale(0.93,1)" dominant-baseline="central">ARG</text><text class="lb" transform="translate(621.5,262.5) scale(0.93,1)" dominant-baseline="central">ESP</text><text class="lb" transform="translate(635.6,279.5) scale(0.93,1)" dominant-baseline="central">ITA</text><text class="lb" transform="translate(522.2,334.5) scale(0.93,1)" dominant-baseline="central">AUS</text>
</svg></body></html>
